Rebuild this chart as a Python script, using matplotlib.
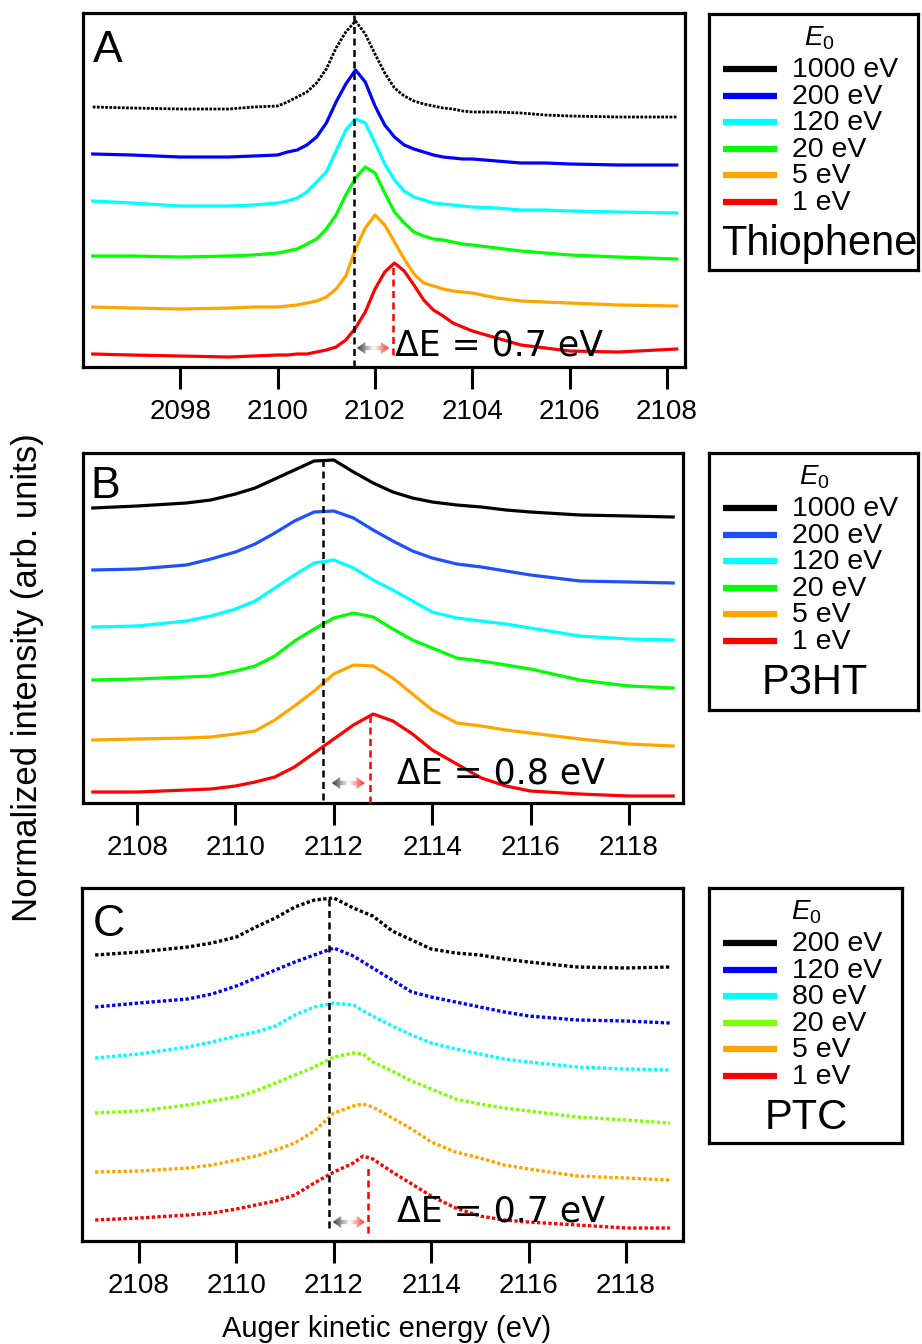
import matplotlib
matplotlib.use('Agg')
import matplotlib.pyplot as plt
import numpy as np
from matplotlib.colors import LinearSegmentedColormap
from matplotlib.path import Path
from matplotlib.patches import PathPatch

plt.rcParams['font.family'] = ['Liberation Sans', 'DejaVu Sans']
plt.rcParams['mathtext.fontset'] = 'custom'
plt.rcParams['mathtext.rm'] = 'Liberation Sans'
plt.rcParams['mathtext.it'] = 'Liberation Sans:italic'

# ---------------- data (stacked, arb. units) ----------------
# Panel A - Thiophene
energy_a = [2096.2, 2097, 2098, 2099, 2099.5, 2100.0, 2100.2, 2100.4, 2100.6, 2100.8,
            2101.0, 2101.2, 2101.4, 2101.6, 2101.8, 2102.0, 2102.2, 2102.4, 2102.6,
            2102.8, 2103.0, 2103.2, 2103.4, 2103.6, 2103.8, 2104.0, 2104.5, 2105,
            2105.5, 2106, 2107, 2108.2]
thio_1000 = [260, 259, 258, 258, 260, 261, 265, 270, 275, 284, 298, 319, 335, 346, 333,
             313, 294, 279, 271, 266, 263, 261, 259, 258, 256, 255, 255, 254, 252, 251,
             250, 250]
thio_200 = [213, 212, 210, 210, 211, 212, 215, 217, 222, 230, 244, 265, 283, 297, 285,
            261, 242, 230, 222, 218, 215, 212, 210, 209, 208, 208, 206, 204, 204, 203,
            202, 202]
thio_120 = [166, 164, 161, 161, 162, 164, 166, 169, 175, 185, 195, 216, 237, 248, 244,
            224, 203, 187, 176, 170, 167, 164, 163, 162, 161, 160, 159, 157, 157, 156,
            155, 154]
thio_20 = [111, 111, 110, 111, 112, 114, 116, 118, 123, 128, 138, 152, 172, 189, 200,
           194, 174, 155, 144, 135, 131, 128, 127, 125, 123, 122, 119, 116, 114, 112,
           110, 108]
thio_5 = [60, 59, 58, 59, 60, 60, 61, 62, 64, 66, 70, 78, 91, 118, 139, 152, 142, 125,
          108, 93, 84, 81, 78, 76, 75, 74, 69, 66, 65, 64, 62, 61]
thio_1 = [13, 12, 11, 10, 11, 12, 12, 13, 13, 15, 17, 20, 27, 39, 55, 78, 95, 104, 96,
          82, 67, 57, 51, 44, 40, 36, 29, 22, 19, 16, 15, 18]

# Panel B - P3HT
energy_b = [2107.1, 2108, 2109, 2109.5, 2110, 2110.4, 2110.8, 2111.2, 2111.6, 2112.0,
            2112.4, 2112.8, 2113.2, 2113.6, 2114.0, 2114.5, 2115, 2115.5, 2116, 2117,
            2118, 2118.9]
p3ht_1000 = [295, 297, 300, 303, 309, 315, 324, 333, 342, 343, 331, 320, 311, 305, 301,
             298, 296, 293, 291, 288, 287, 286]
p3ht_200 = [233, 234, 238, 244, 251, 259, 270, 282, 291, 292, 285, 273, 262, 252, 245,
            239, 236, 232, 228, 222, 221, 220]
p3ht_120 = [176, 177, 182, 187, 194, 202, 215, 228, 240, 243, 235, 223, 213, 202, 191,
            185, 182, 179, 175, 167, 164, 163]
p3ht_20 = [123, 124, 126, 127, 132, 137, 147, 162, 174, 185, 190, 186, 174, 163, 155,
           145, 142, 138, 134, 123, 117, 115]
p3ht_5 = [63, 64, 65, 66, 69, 72, 83, 97, 112, 129, 138, 137, 125, 109, 93, 80, 77, 73,
          70, 64, 59, 57]
p3ht_1 = [11, 11, 13, 14, 17, 21, 26, 36, 50, 64, 78, 89, 82, 69, 53, 39, 25, 17, 12, 9,
          7, 7]

# Panel C - PTC
energy_c = [2107.1, 2108, 2109, 2109.5, 2110, 2110.4, 2110.8, 2111.2, 2111.6, 2112.0,
            2112.4, 2112.6, 2112.8, 2113.2, 2113.6, 2114.0, 2114.5, 2115, 2115.5, 2116,
            2117, 2118, 2118.9]
ptc_200 = [286, 289, 294, 298, 304, 314, 323, 334, 341, 343, 333, 329, 325, 310, 301,
           292, 288, 286, 282, 279, 274, 273, 274]
ptc_120 = [234, 238, 242, 247, 255, 263, 271, 279, 286, 293, 285, 279, 273, 261, 249,
           244, 239, 234, 229, 225, 221, 220, 218]
ptc_80 = [183, 187, 194, 199, 205, 209, 215, 226, 234, 238, 236, 230, 225, 215, 206,
          198, 192, 187, 182, 179, 174, 172, 171]
ptc_20 = [128, 130, 136, 140, 144, 150, 158, 166, 174, 184, 188, 187, 179, 170, 160,
          152, 142, 137, 133, 130, 124, 121, 118]
ptc_5 = [69, 70, 73, 76, 81, 85, 91, 98, 110, 128, 135, 137, 134, 123, 112, 99, 89, 83,
         76, 72, 65, 63, 61]
ptc_1 = [21, 23, 26, 28, 32, 36, 40, 46, 58, 69, 78, 85, 82, 69, 57, 45, 33, 25, 21, 19,
         16, 13, 13]

labels_a = ['1000 eV', '200 eV', '120 eV', '20 eV', '5 eV', '1 eV']
labels_b = ['1000 eV', '200 eV', '120 eV', '20 eV', '5 eV', '1 eV']
labels_c = ['200 eV', '120 eV', '80 eV', '20 eV', '5 eV', '1 eV']

# peak markers: (black peak, red peak), dashed-line extents, delta E
peaks_a = [2101.57, 2102.37]
peaks_b = [2111.78, 2112.74]
peaks_c = [2111.90, 2112.70]
black_span = {'A': (0, 354), 'B': (3, 345), 'C': (13, 343)}
red_span = {'A': (12, 104), 'B': (0, 90), 'C': (8, 76)}
delta_e = ['0.7', '0.8', '0.7']

COLORS_A = ['black', '#0000FF', '#00FFFF', '#00FF00', '#FFA500', '#FF0000']
COLORS_B = ['black', '#1E50FF', '#00FFFF', '#00FF00', '#FFA500', '#FF0000']
COLORS_C = ['black', '#0000FF', '#00FFFF', '#80FF00', '#FFA500', '#FF0000']

arrow_cmap = LinearSegmentedColormap.from_list('arr', ['#333333', '#ffffff', '#ff2a2a'])

FIG_W, FIG_H = 922, 1344
fig = plt.figure(figsize=(FIG_W / 100, FIG_H / 100), dpi=100)


def px_axes(l, t, r, b):
    return fig.add_axes([l / FIG_W, 1 - b / FIG_H, (r - l) / FIG_W, (b - t) / FIG_H])


def gradient_arrow(ax, x0, x1, y, head_len, head_h=6, shaft_h=2.2):
    verts = [(x0, y), (x0 + head_len, y + head_h), (x0 + head_len, y + shaft_h),
             (x1 - head_len, y + shaft_h), (x1 - head_len, y + head_h), (x1, y),
             (x1 - head_len, y - head_h), (x1 - head_len, y - shaft_h),
             (x0 + head_len, y - shaft_h), (x0 + head_len, y - head_h), (x0, y)]
    patch = PathPatch(Path(verts, closed=True), facecolor='none', edgecolor='none')
    ax.add_patch(patch)
    grad = np.linspace(0, 1, 256).reshape(1, -1)
    im = ax.imshow(grad, cmap=arrow_cmap, extent=[x0, x1, y - head_h, y + head_h],
                   aspect='auto', zorder=4, interpolation='bilinear')
    im.set_clip_path(patch)


def draw_panel(box, xlim, ylim, ticks, energy, curves, colors, letter, letter_pos,
               peaks, bspan, rspan, arrow, dtext, dpos, dotted):
    ax = px_axes(*box)
    for i, (y, c) in enumerate(zip(curves, colors)):
        if dotted:
            ax.plot(energy, y, color=c, lw=2.4, ls=(0, (1, 0.7)), zorder=2)
        elif i == 0 and letter == 'A':
            ax.plot(energy, y, color=c, lw=2.0, ls=(0, (1, 0.5)), zorder=2)
        else:
            ax.plot(energy, y, color=c, lw=2.3, zorder=2)
    ax.vlines(peaks[0], bspan[0], bspan[1], colors='black', lw=1.8,
              linestyles=(0, (2.8, 1.8)), zorder=3)
    ax.vlines(peaks[1], rspan[0], rspan[1], colors='#FF0000', lw=1.8,
              linestyles=(0, (2.8, 1.8)), zorder=3)
    gradient_arrow(ax, arrow[0], arrow[1], arrow[2], head_len=0.17)
    ax.text(dpos[0], dpos[1], '\u0394E = ' + dtext + ' eV', fontsize=25,
            family='DejaVu Sans', va='baseline', ha='left', zorder=5)
    ax.text(letter_pos[0], letter_pos[1], letter, transform=ax.transAxes,
            fontsize=32, va='baseline', ha='left')
    ax.set_xlim(*xlim)
    ax.set_ylim(*ylim)
    ax.set_xticks(ticks)
    ax.set_yticks([])
    ax.tick_params(axis='x', direction='out', length=16, width=2.2, labelsize=20, pad=7,
                   top=False)
    for s in ax.spines.values():
        s.set_linewidth(2.3)
    return ax


def draw_legend(box, labels, colors, name, e0_x, name_x):
    ax = px_axes(*box)
    w = box[2] - box[0]
    h = box[3] - box[1]
    ax.set_xlim(0, w)
    ax.set_ylim(h, 0)
    ax.set_xticks([])
    ax.set_yticks([])
    for s in ax.spines.values():
        s.set_linewidth(2.3)
    ax.text(e0_x, 24, r'$E_0$', fontsize=20, ha='center', va='center')
    for i, (lab, c) in enumerate(zip(labels, colors)):
        y = 55 + 26.6 * i
        ax.plot([14, 68], [y, y], color=c, lw=4.5, solid_capstyle='butt')
        ax.text(83, y + 8, lab, fontsize=20.5, ha='left', va='baseline')
    ax.text(name_x, 241, name, fontsize=30, ha='center', va='baseline')


draw_panel((83, 13, 685, 367), (2096.0, 2108.37), (0, 354),
           [2098, 2100, 2102, 2104, 2106, 2108], energy_a,
           [thio_1000, thio_200, thio_120, thio_20, thio_5, thio_1], COLORS_A,
           'A', (0.017, 0.862), peaks_a, black_span['A'], red_span['A'],
           (2101.63, 2102.29, 19), delta_e[0], (2102.41, 12), False)

draw_panel((83, 453, 683, 803), (2106.9, 2119.1), (0, 350),
           [2108, 2110, 2112, 2114, 2116, 2118], energy_b,
           [p3ht_1000, p3ht_200, p3ht_120, p3ht_20, p3ht_5, p3ht_1], COLORS_B,
           'B', (0.012, 0.871), peaks_b, black_span['B'], red_span['B'],
           (2111.96, 2112.63, 20), delta_e[1], (2113.28, 20), False)

draw_panel((82, 888, 683, 1241), (2106.83, 2119.17), (0, 353),
           [2108, 2110, 2112, 2114, 2116, 2118], energy_c,
           [ptc_200, ptc_120, ptc_80, ptc_20, ptc_5, ptc_1], COLORS_C,
           'C', (0.018, 0.865), peaks_c, black_span['C'], red_span['C'],
           (2111.98, 2112.64, 19), delta_e[2], (2113.30, 19), True)

draw_legend((709, 14, 918, 270), labels_a, COLORS_A, 'Thiophene', 110, 110)
draw_legend((709, 453, 918, 710), labels_b, COLORS_B, 'P3HT', 105, 106)
draw_legend((709, 888, 902, 1143), labels_c, COLORS_C, 'PTC', 97, 97)

fig.text(28 / FIG_W, 1 - 678 / FIG_H, 'Normalized intensity (arb. units)', rotation=90,
         fontsize=25, ha='center', va='center')
fig.text(387 / FIG_W, 1 - 1329 / FIG_H, 'Auger kinetic energy (eV)', fontsize=21,
         ha='center', va='center')

fig.savefig('out.png', dpi=100)
